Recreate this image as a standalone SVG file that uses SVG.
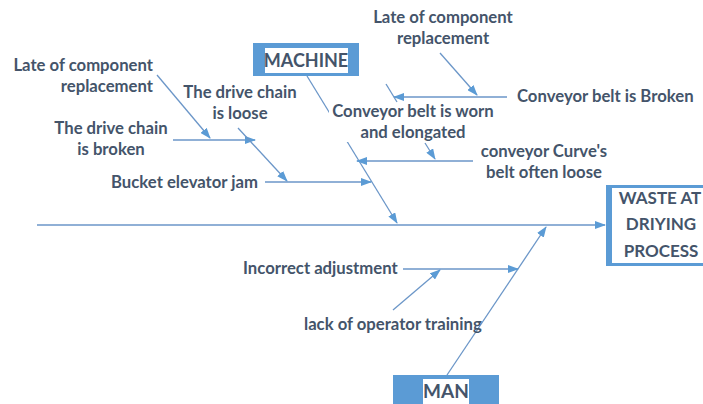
<svg xmlns="http://www.w3.org/2000/svg" width="703" height="404" viewBox="0 0 703 404">
<style>
.t{font-family:Lato,"Liberation Sans",sans-serif;font-weight:bold;font-size:16.7px;fill:#44546a}
.c{text-anchor:middle}
.e{text-anchor:end}
.ln{stroke:#6b96c8;stroke-width:1.3;fill:none}
.ar{marker-end:url(#ah)}
.box{fill:#5b9bd5}
.hl{fill:#ffffff}
</style>
<defs>
<marker id="ah" markerUnits="userSpaceOnUse" markerWidth="11" markerHeight="8" refX="10" refY="4" orient="auto">
<path d="M0,0 L11,4 L0,8 z" fill="#5b9bd5"/>
</marker>
</defs>
<rect width="703" height="404" fill="#ffffff"/>
<g id="connectors">
<line class="ln ar" x1="37" y1="225" x2="605" y2="225"/>
<line class="ln ar" x1="307" y1="76" x2="397" y2="223"/>
<line class="ln ar" x1="447" y1="375" x2="546" y2="227"/>
<line class="ln ar" x1="157" y1="75" x2="210" y2="138"/>
<line class="ln ar" x1="173" y1="140" x2="255" y2="140"/>
<line class="ln ar" x1="238" y1="128" x2="287" y2="181"/>
<line class="ln ar" x1="265" y1="182" x2="371" y2="182"/>
<line class="ln ar" x1="440" y1="53" x2="477" y2="95"/>
<line class="ln ar" x1="507" y1="97" x2="394" y2="97"/>
<line class="ln" x1="386" y1="84" x2="397" y2="102"/>
<line class="ln ar" x1="473" y1="161" x2="357" y2="161"/>
<line class="ln ar" x1="425" y1="143" x2="435" y2="159"/>
<line class="ln ar" x1="403" y1="269" x2="518" y2="269"/>
<line class="ln ar" x1="393" y1="310" x2="440" y2="270"/>
</g>
<g id="machine">
<rect class="box" x="253" y="43" width="106" height="33"/>
<rect class="hl" x="265" y="48" width="83" height="25"/>
<text class="t c" x="306" y="67" style="font-size:18px">MACHINE</text>
</g>
<g id="man">
<rect class="box" x="393" y="375" width="106" height="29"/>
<rect class="hl" x="423" y="379" width="46" height="25"/>
<text class="t c" x="446" y="398" style="font-size:19px">MAN</text>
</g>
<g id="waste">
<rect x="608" y="186.5" width="100" height="78" fill="#ffffff" stroke="#5b9bd5" stroke-width="3"/>
<rect x="606" y="185" width="6" height="81" fill="#5b9bd5"/>
<text class="t c" x="660" y="204" style="font-size:17px">WASTE AT</text>
<text class="t c" x="661" y="230" style="font-size:17px">DRIYING</text>
<text class="t c" x="661" y="257" style="font-size:17px">PROCESS</text>
</g>
<g id="late-left">
<text class="t e" x="153" y="71">Late of component</text>
<text class="t e" x="153" y="92">replacement</text>
</g>
<g id="chain-loose">
<text class="t c" x="240" y="98">The drive chain</text>
<text class="t c" x="240" y="119">is loose</text>
</g>
<g id="chain-broken">
<text class="t c" x="111" y="134">The drive chain</text>
<text class="t c" x="111" y="155">is broken</text>
</g>
<g id="bucket">
<text class="t c" x="184.5" y="188">Bucket elevator jam</text>
</g>
<g id="late-right">
<text class="t c" x="443" y="23">Late of component</text>
<text class="t c" x="443" y="44">replacement</text>
</g>
<g id="belt-broken">
<text class="t" x="517" y="102">Conveyor belt is Broken</text>
</g>
<g id="belt-worn">
<rect class="hl" x="329" y="103" width="167" height="39"/>
<text class="t c" x="413" y="117">Conveyor belt is worn</text>
<text class="t c" x="413" y="138">and elongated</text>
</g>
<g id="curve-belt">
<text class="t c" x="544" y="157">conveyor Curve's</text>
<text class="t c" x="544" y="178">belt often loose</text>
</g>
<g id="incorrect">
<text class="t" x="243" y="274">Incorrect adjustment</text>
</g>
<g id="training">
<text class="t" x="304" y="330">lack of operator training</text>
</g>
</svg>
